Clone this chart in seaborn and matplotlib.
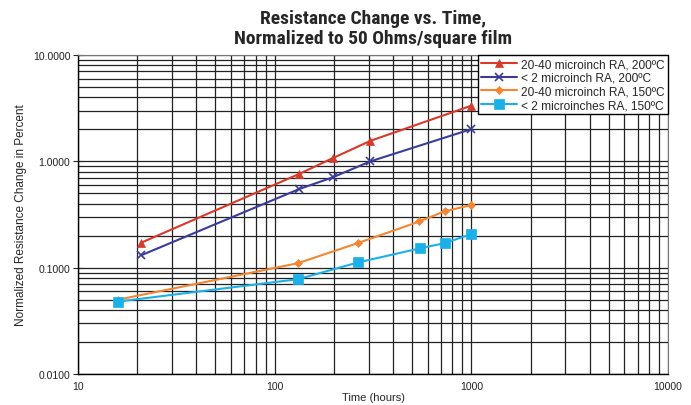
import matplotlib
matplotlib.use("Agg")
import matplotlib.pyplot as plt
import seaborn as sns
from matplotlib.ticker import FixedLocator, FixedFormatter, LogLocator, NullFormatter

# datos
horas_rojo = [21, 133, 197, 307, 1000]
valores_rojo = [0.172, 0.76, 1.07, 1.56, 3.34]

horas_azul = [21, 133, 197, 307, 1000]
valores_azul = [0.131, 0.548, 0.707, 1.0, 2.01]

horas_naranja = [16, 131, 264, 545, 731, 1000]
valores_naranja = [0.050, 0.110, 0.170, 0.272, 0.339, 0.388]

horas_cian = [16, 132, 265, 549, 731, 1000]
valores_cian = [0.048, 0.078, 0.112, 0.152, 0.170, 0.207]

etiquetas = ["20-40 microinch RA, 200ºC", "< 2 microinch RA, 200ºC",
             "20-40 microinch RA, 150ºC", "< 2 microinches RA, 150ºC"]
y_ticks = [0.01, 0.1, 1, 10]
y_labels = ["0.0100", "0.1000", "1.0000", "10.0000"]
x_ticks = [10, 100, 1000, 10000]
x_labels = ["10", "100", "1000", "10000"]

sns.set_style("white")
plt.rcParams['font.family'] = ['Liberation Sans', 'DejaVu Sans']

fig = plt.figure(figsize=(6.91, 4.06), dpi=100)
ax = fig.add_axes([0.1129, 0.0764, 0.8538, 0.7856])

sns.lineplot(x=horas_rojo, y=valores_rojo, ax=ax, color="#d8392b", marker="^",
             markersize=6, markeredgecolor="#d8392b", markeredgewidth=0.5,
             linewidth=1.5, label=etiquetas[0])
sns.lineplot(x=horas_azul, y=valores_azul, ax=ax, color="#3a3c99", marker="x",
             markersize=6, markeredgecolor="#3a3c99", markeredgewidth=1.2,
             linewidth=1.5, label=etiquetas[1])
sns.lineplot(x=horas_naranja, y=valores_naranja, ax=ax, color="#f58631", marker="D",
             markersize=4, markeredgecolor="#f58631", markeredgewidth=0.5,
             linewidth=1.5, label=etiquetas[2])
sns.lineplot(x=horas_cian, y=valores_cian, ax=ax, color="#1bb0e8", marker="s",
             markersize=7, markeredgecolor="#1bb0e8", markeredgewidth=0.5,
             linewidth=1.5, label=etiquetas[3])

ax.set_xscale("log")
ax.set_yscale("log")
ax.set_xlim(10, 10000)
ax.set_ylim(0.01, 10)

ax.xaxis.set_major_locator(FixedLocator(x_ticks))
ax.xaxis.set_major_formatter(FixedFormatter(x_labels))
ax.yaxis.set_major_locator(FixedLocator(y_ticks))
ax.yaxis.set_major_formatter(FixedFormatter(y_labels))
ax.xaxis.set_minor_locator(LogLocator(base=10, subs=range(2, 10)))
ax.yaxis.set_minor_locator(LogLocator(base=10, subs=range(2, 10)))
ax.xaxis.set_minor_formatter(NullFormatter())
ax.yaxis.set_minor_formatter(NullFormatter())

ax.grid(True, which="both", color="#222222", linewidth=0.9)
ax.tick_params(axis="x", which="both", length=0, labelsize=7.5, pad=5,
               labelcolor="#222222")
ax.tick_params(axis="y", which="major", direction="inout", length=7, width=0.8,
               left=True, labelsize=7.5, pad=2, labelcolor="#222222")
ax.tick_params(axis="y", which="minor", length=0)

for lado in ["top", "right"]:
    ax.spines[lado].set_color("#777777")
for lado in ["left", "bottom"]:
    ax.spines[lado].set_color("black")
    ax.spines[lado].set_linewidth(1.0)

ax.set_xlabel("Time (hours)", fontsize=8, labelpad=1)
ax.set_ylabel("Normalized Resistance Change in Percent", fontsize=8.5, labelpad=4)

fig.text(0.54, 0.975, "Resistance Change vs. Time,\nNormalized to 50 Ohms/square film",
         ha="center", va="top", fontsize=14, fontweight="bold", linespacing=1.1,
         family=['Liberation Sans Narrow', 'DejaVu Sans Condensed',
                 'Roboto Condensed', 'Roboto'])

leg = ax.legend(loc="upper right", fontsize=8.6, frameon=True, fancybox=False,
                borderpad=0.25, labelspacing=0.15, handlelength=3.0,
                borderaxespad=0.0, handletextpad=0.4)
leg.get_frame().set_edgecolor("black")
leg.get_frame().set_linewidth(1.0)
leg.get_frame().set_alpha(1.0)

fig.savefig("out.png", dpi=100)
